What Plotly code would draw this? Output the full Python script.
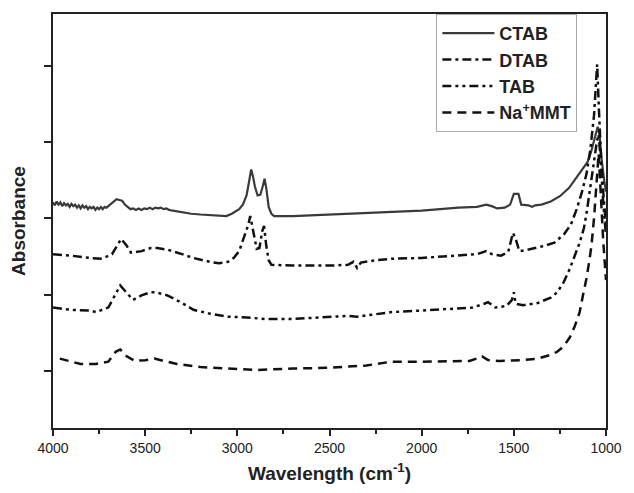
import plotly.graph_objects as go

# CTAB (solid)
ctab_wn = [4000, 3990, 3980, 3970, 3960, 3950, 3940, 3930, 3920, 3910, 3900, 3890, 3880, 3870, 3860, 3850,
           3840, 3830, 3820, 3810, 3800, 3790, 3780, 3770, 3760, 3750, 3740, 3730, 3720, 3710, 3700, 3685,
           3670, 3655, 3640, 3625, 3610, 3595, 3580, 3565, 3550, 3535,
           3520, 3505, 3490, 3475, 3460, 3445, 3430, 3415, 3400, 3385, 3370, 3350, 3300, 3250, 3200, 3150,
           3100, 3060, 3030, 3010, 2990, 2970, 2950, 2935, 2925, 2915, 2905, 2890, 2875, 2862, 2852, 2842,
           2830, 2815, 2800, 2700, 2600, 2500, 2400, 2300, 2200, 2100, 2000, 1900, 1800, 1700, 1650, 1620,
           1590, 1550, 1520, 1500, 1475, 1460, 1420, 1400, 1385, 1350, 1300, 1250, 1200, 1150, 1120, 1100,
           1080, 1060, 1045, 1035, 1025, 1010, 1000]
ctab_abs = [2.21, 2.17, 2.22, 2.18, 2.21, 2.16, 2.20, 2.17, 2.19, 2.15, 2.19, 2.16, 2.18, 2.14, 2.17, 2.13,
            2.17, 2.14, 2.16, 2.12, 2.15, 2.13, 2.15, 2.11, 2.14, 2.12, 2.15, 2.12, 2.15, 2.14, 2.16, 2.19,
            2.22, 2.25, 2.24, 2.23, 2.18, 2.15, 2.12, 2.13, 2.11, 2.13,
            2.11, 2.13, 2.12, 2.14, 2.12, 2.14, 2.13, 2.14, 2.12, 2.13, 2.11, 2.10, 2.08, 2.06, 2.05, 2.04,
            2.03, 2.03, 2.06, 2.09, 2.12, 2.18, 2.30, 2.50, 2.64, 2.55, 2.42, 2.30, 2.31, 2.42, 2.52, 2.38,
            2.15, 2.06, 2.03, 2.03, 2.04, 2.05, 2.06, 2.07, 2.08, 2.09, 2.10, 2.12, 2.14, 2.15, 2.18, 2.16,
            2.13, 2.14, 2.18, 2.32, 2.32, 2.18, 2.17, 2.15, 2.17, 2.18, 2.22, 2.29, 2.40, 2.57, 2.67, 2.74,
            2.88, 3.05, 3.20, 3.10, 2.80, 2.50, 2.35]

# DTAB (dash-dot)
dtab_wn = [4000, 3900, 3800, 3735, 3680, 3650, 3630, 3600, 3577, 3520, 3470, 3434, 3380, 3300, 3238, 3150,
           3100, 3050, 3020, 2990, 2960, 2940, 2930, 2915, 2895, 2880, 2865, 2855, 2843, 2830, 2815, 2700,
           2500, 2400, 2370, 2350, 2330, 2250, 2164, 2000, 1800, 1700, 1650, 1620, 1570, 1530, 1505, 1490,
           1470, 1420, 1350, 1280, 1228, 1190, 1159, 1130, 1106, 1085, 1065, 1055, 1048, 1038, 1025, 1012, 1000]
dtab_abs = [1.53, 1.51, 1.48, 1.47, 1.53, 1.66, 1.73, 1.64, 1.55, 1.57, 1.61, 1.61, 1.59, 1.53, 1.48, 1.43,
            1.41, 1.43, 1.48, 1.57, 1.77, 1.92, 2.03, 1.83, 1.60, 1.61, 1.83, 1.90, 1.64, 1.45, 1.39, 1.38,
            1.38, 1.39, 1.43, 1.35, 1.42, 1.45, 1.47, 1.48, 1.51, 1.53, 1.57, 1.53, 1.51, 1.56, 1.81, 1.73,
            1.57, 1.59, 1.63, 1.68, 1.79, 1.92, 2.12, 2.35, 2.58, 2.90, 3.35, 3.80, 4.02, 3.40, 2.70, 2.25, 1.90]

# TAB (dash-dot-dot)
tab_wn = [4000, 3900, 3800, 3767, 3700, 3660, 3635, 3610, 3566, 3520, 3470, 3444, 3380, 3300, 3238, 3150,
          3048, 2950, 2852, 2700, 2534, 2400, 2350, 2164, 2000, 1850, 1725, 1660, 1640, 1600, 1540, 1510,
          1500, 1490, 1450, 1370, 1300, 1265, 1230, 1196, 1170, 1143, 1120, 1106, 1085, 1065, 1050, 1040,
          1030, 1015, 1000]
tab_abs = [0.83, 0.80, 0.79, 0.77, 0.83, 1.02, 1.12, 1.05, 0.93, 0.99, 1.03, 1.03, 0.99, 0.89, 0.80, 0.75,
           0.71, 0.70, 0.68, 0.68, 0.70, 0.72, 0.71, 0.77, 0.79, 0.81, 0.83, 0.88, 0.90, 0.83, 0.85, 0.93,
           1.03, 0.88, 0.86, 0.89, 0.96, 1.03, 1.16, 1.34, 1.51, 1.68, 1.87, 2.06, 2.41, 2.75, 3.00, 3.10,
           2.80, 2.20, 1.77]

# Na+MMT (dashed)
mmt_wn = [3963, 3900, 3850, 3767, 3700, 3660, 3635, 3600, 3556, 3500, 3450, 3400, 3328, 3200, 3063, 2900,
          2700, 2500, 2300, 2164, 2000, 1741, 1690, 1672, 1640, 1582, 1450, 1370, 1300, 1265, 1230, 1196,
          1170, 1143, 1125, 1106, 1090, 1079, 1065, 1050, 1040, 1030, 1015, 1000]
mmt_abs = [0.16, 0.12, 0.09, 0.09, 0.12, 0.25, 0.28, 0.19, 0.13, 0.14, 0.16, 0.13, 0.09, 0.05, 0.03, 0.01,
           0.03, 0.04, 0.07, 0.12, 0.12, 0.13, 0.17, 0.19, 0.14, 0.13, 0.14, 0.16, 0.21, 0.25, 0.32, 0.44,
           0.58, 0.77, 0.99, 1.21, 1.45, 1.64, 2.00, 2.50, 2.85, 2.40, 1.70, 1.19]

series_names = ["CTAB", "DTAB", "TAB", "Na<sup>+</sup>MMT"]
x_ticks = [4000, 3500, 3000, 2500, 2000, 1500, 1000]
y_ticks = [0, 1, 2, 3, 4]

fig = go.Figure()
fig.add_trace(go.Scatter(x=ctab_wn, y=ctab_abs, mode="lines", name=series_names[0],
                         line=dict(color="#3a3a3a", width=2.2)))
fig.add_trace(go.Scatter(x=dtab_wn, y=dtab_abs, mode="lines", name=series_names[1],
                         line=dict(color="#111111", width=2.5, dash="9px,4px,3px,4px")))
fig.add_trace(go.Scatter(x=tab_wn, y=tab_abs, mode="lines", name=series_names[2],
                         line=dict(color="#111111", width=2.5, dash="9px,4px,3px,4px,3px,4px")))
fig.add_trace(go.Scatter(x=mmt_wn, y=mmt_abs, mode="lines", name=series_names[3],
                         line=dict(color="#111111", width=2.5, dash="9px,6px")))

fig.update_layout(
    width=634, height=493,
    margin=dict(l=53, r=17, t=14, b=58),
    paper_bgcolor="white", plot_bgcolor="white",
    font=dict(family="Liberation Sans, Arial, sans-serif", color="#222"),
    legend=dict(x=(444 - 53) / 564, y=1, xanchor="left", yanchor="top",
                bordercolor="#aaa", borderwidth=1, bgcolor="white",
                font=dict(size=18, family="Liberation Sans, Arial, sans-serif", weight="bold"),
                tracegroupgap=0, itemwidth=52),
    showlegend=True,
)
fig.update_xaxes(
    range=[4000, 1000], tickvals=x_ticks, ticks="outside", ticklen=6, tickwidth=2,
    ticklabeloverflow="allow",
    minor=dict(dtick=250, ticks="outside", ticklen=4, tickwidth=2, tickcolor="#222"),
    showline=True, linewidth=2, linecolor="#222", mirror=True, showgrid=False, zeroline=False,
    tickfont=dict(size=14), tickcolor="#222",
    title=dict(text="<b>Wavelength (cm<sup>-1</sup>)</b>", font=dict(size=19), standoff=12),
)
fig.update_yaxes(
    range=[-0.75, 4.68], tickvals=y_ticks, showticklabels=False, ticks="outside", ticklen=7, tickwidth=2,
    showline=True, linewidth=2, linecolor="#222", mirror=True, showgrid=False, zeroline=False,
    tickcolor="#222",
    title=dict(text="<b>Absorbance</b>", font=dict(size=19), standoff=13),
)

fig.write_html("out.html")
